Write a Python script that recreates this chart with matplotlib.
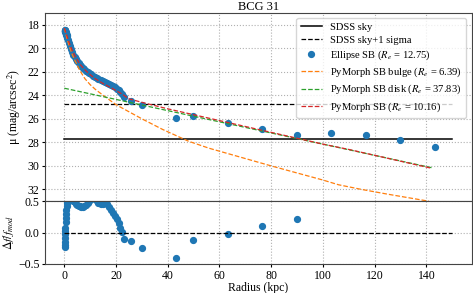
import numpy as np
import matplotlib
matplotlib.use("Agg")
import matplotlib.pyplot as plt

plt.rcParams['font.family'] = ['Liberation Serif', 'DejaVu Serif']
plt.rcParams['mathtext.fontset'] = 'stix'
plt.rcParams['font.size'] = 8.5

# Ellipse SB profile (kpc, mag/arcsec^2) and residuals
radius = [0.1, 0.15, 0.2, 0.25, 0.3, 0.35, 0.4, 0.5, 0.6, 0.7, 0.8, 0.9, 1.0, 1.2, 1.4,
          1.8, 2.2, 2.6, 3.0, 3.5, 4.0, 4.5, 5.0, 5.5, 6.0, 6.6, 7.2, 7.8, 8.4, 9.0,
          9.7, 10.4, 11.1, 11.8, 12.5, 13.2, 14.0, 14.8, 15.6, 16.4, 17.2, 18.0, 18.8,
          19.6, 20.4, 21.0, 21.6, 22.2, 23.0, 25.8, 30.0, 43.2, 49.9, 63.2, 76.5, 89.9,
          103.2, 116.5, 129.9, 143.2]
mu_ell = [18.45, 18.47, 18.5, 18.52, 18.55, 18.58, 18.6, 18.66, 18.72, 18.78, 18.85, 18.92,
          19.0, 19.15, 19.3, 19.6, 19.85, 20.1, 20.3, 20.55, 20.75, 20.95, 21.1, 21.25,
          21.4, 21.55, 21.68, 21.8, 21.92, 22.02, 22.12, 22.22, 22.32, 22.42, 22.5, 22.58,
          22.67, 22.75, 22.84, 22.92, 23.02, 23.12, 23.22, 23.32, 23.45, 23.55, 23.7, 23.9,
          24.15, 24.45, 24.85, 25.9, 25.77, 26.36, 26.9, 27.4, 27.24, 27.38, 27.8, 28.4]
resid = [-0.23, -0.19, -0.15, -0.08, -0.02, 0.03, 0.07, 0.17, 0.24, 0.3, 0.36, 0.42, 0.47,
         0.5, 0.52, 0.55, 0.56, 0.55, 0.53, 0.5, 0.48, 0.46, 0.44, 0.43, 0.42, 0.41, 0.41,
         0.42, 0.44, 0.47, 0.5, 0.53, 0.55, 0.53, 0.5, 0.47, 0.46, 0.46, 0.47, 0.45, 0.4,
         0.36, 0.31, 0.26, 0.21, 0.15, 0.08, 0.01, -0.1, -0.14, -0.24, -0.41, -0.11, -0.02,
         0.1, 0.22, 0.95, 1.4, 1.5, 1.3]

# PyMorph model profiles
r_bulge = [0, 1, 2, 3, 4, 6, 8, 10, 12, 15, 20, 25, 30, 38, 48, 56, 64, 72, 80, 90, 100,
           106, 115, 125, 133, 141]
mu_bulge = [18.3, 19.15, 19.9, 20.5, 21.0, 21.9, 22.6, 23.1, 23.5, 24.0, 24.8, 25.4, 26.0,
            26.9, 27.9, 28.5, 29.0, 29.5, 30.0, 30.6, 31.2, 31.6, 32.0, 32.4, 32.7, 33.0]
r_disk = [0, 50, 100, 142]
mu_disk = [23.4, 25.78, 28.15, 30.15]
r_total = [0, 1, 2, 3, 4, 6, 8, 10, 12, 15, 18, 22, 25, 30, 40, 50, 60, 70, 80, 90, 100,
           110, 120, 130, 142]
mu_total = [18.3, 18.95, 19.6, 20.15, 20.6, 21.35, 21.85, 22.25, 22.6, 23.0, 23.35, 23.85,
            24.3, 24.6, 25.15, 25.65, 26.15, 26.65, 27.15, 27.65, 28.15, 28.6, 29.1, 29.6,
            30.2]

sky = 27.75
sky_1sig = 24.78
sky_range = [0, 150]

fig, (ax1, ax2) = plt.subplots(2, 1, figsize=(4.73, 2.93), dpi=100, sharex=True,
                               gridspec_kw={'height_ratios': [3, 1]})
plt.subplots_adjust(left=0.095, right=0.997, top=0.956, bottom=0.099, hspace=0)

ax1.plot(sky_range, [sky, sky], color='k', lw=1.1, label='SDSS sky')
ax1.plot(sky_range, [sky_1sig, sky_1sig], color='k', lw=0.9, ls='--', label='SDSS sky+1 sigma')
ax1.plot(radius, mu_ell, 'o', color='tab:blue', ms=4.2, label=r'Ellipse SB ($R_e$ = 12.75)')
ax1.plot(r_bulge, mu_bulge, '--', color='tab:orange', lw=0.9, label=r'PyMorph SB bulge ($R_e$ = 6.39)')
ax1.plot(r_disk, mu_disk, '--', color='tab:green', lw=0.9, label=r'PyMorph SB disk ($R_e$ = 37.83)')
ax1.plot(r_total, mu_total, '--', color='tab:red', lw=0.9, label=r'PyMorph SB ($R_e$ = 10.16)')
ax1.set_ylim(33, 17)
ax1.set_yticks(range(18, 33, 2))
ax1.set_ylabel('μ (mag/arcsec$^2$)', labelpad=3)
ax1.set_title('BCG 31', fontsize=9, pad=2)
ax1.legend(loc='upper right', fontsize=7.6, labelspacing=0.35)

ax2.plot(radius, resid, 'o', color='tab:blue', ms=4.2)
ax2.plot(sky_range, [0, 0], color='k', lw=0.9, ls='--')
ax2.set_ylim(-0.5, 0.5)
ax2.set_yticks([-0.5, 0.0, 0.5])
ax2.set_ylabel(r'$\Delta f/f_{mod}$', labelpad=1)
ax2.set_xlabel('Radius (kpc)', labelpad=0)
ax2.set_xticks(range(0, 141, 20))

for ax in (ax1, ax2):
    ax.grid(True, ls=':', color='#b0b0b0', lw=0.8)
    ax.tick_params(length=2.5, pad=1.5)
    for s in ax.spines.values():
        s.set_color('#444444')

fig.savefig('out.png', dpi=100)
